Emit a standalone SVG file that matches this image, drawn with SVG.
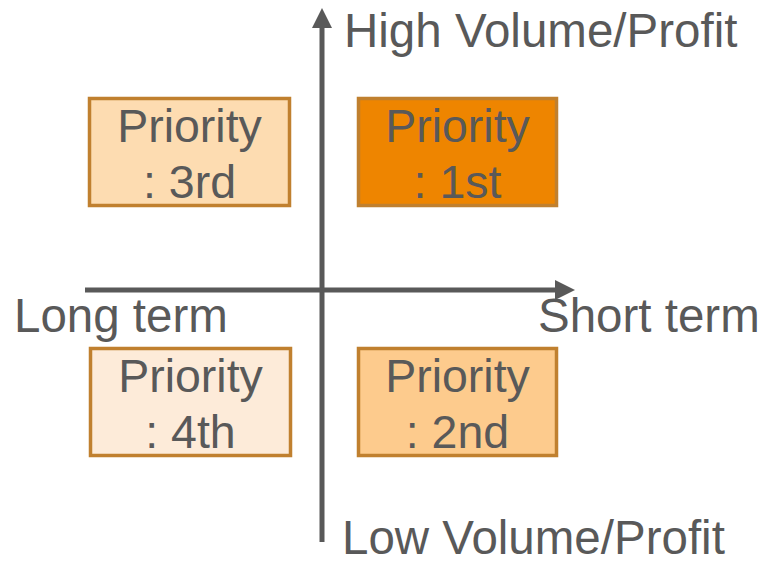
<svg xmlns="http://www.w3.org/2000/svg" width="766" height="564" viewBox="0 0 766 564">
<style>
.box{stroke:#C0802F;stroke-width:3.5}
.t{font-family:"Liberation Sans",Arial,sans-serif;font-size:47.5px;fill:#595959}
.p{font-size:46.5px}
.c{text-anchor:middle}
.ax{stroke:#595959;stroke-width:5;fill:none}
</style>
<defs>
<marker id="ah" markerUnits="userSpaceOnUse" markerWidth="20" markerHeight="20" refX="0" refY="9" orient="auto" viewBox="0 0 18 18">
<path d="M0,0 L18,9 L0,18 Z" fill="#595959"/>
</marker>
</defs>
<g id="connectors">
<line class="ax" x1="322" y1="542" x2="322" y2="28" marker-end="url(#ah)"/>
<line class="ax" x1="85" y1="290" x2="555" y2="290" marker-end="url(#ah)"/>
</g>
<g id="p3">
<rect class="box" x="89.5" y="98.5" width="200" height="107" fill="#FDDCB1"/>
<text class="t p c" x="189.5" y="142">Priority</text>
<text class="t p c" x="189.5" y="198">: 3rd</text>
</g>
<g id="p1">
<rect class="box" x="358.5" y="98.5" width="198" height="107" fill="#EE8500"/>
<text class="t p c" x="457.5" y="142">Priority</text>
<text class="t p c" x="457.5" y="198">: 1st</text>
</g>
<g id="p4">
<rect class="box" x="90.5" y="348.5" width="200" height="107" fill="#FDEBD9"/>
<text class="t p c" x="190.5" y="392">Priority</text>
<text class="t p c" x="190.5" y="448">: 4th</text>
</g>
<g id="p2">
<rect class="box" x="358.5" y="348.5" width="198" height="107" fill="#FDCB8D"/>
<text class="t p c" x="457.5" y="392">Priority</text>
<text class="t p c" x="457.5" y="448">: 2nd</text>
</g>
<g id="labels">
<text class="t" x="344" y="47">High Volume/Profit</text>
<text class="t" x="14" y="332">Long term</text>
<text class="t" x="538" y="332">Short term</text>
<text class="t" x="342" y="554">Low Volume/Profit</text>
</g>
</svg>
